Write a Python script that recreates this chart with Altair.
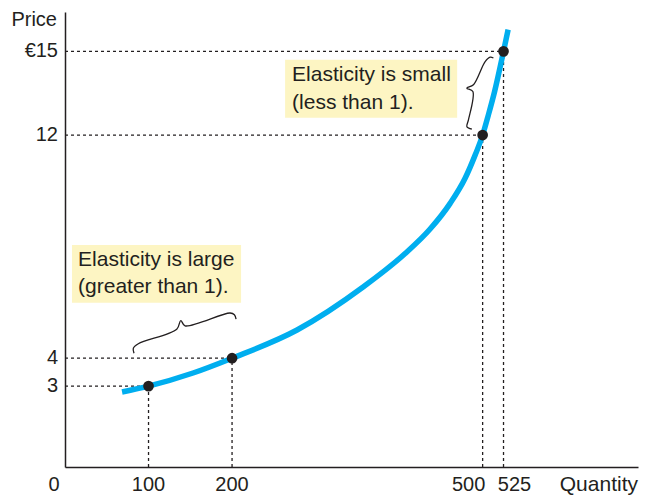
import altair as alt
import pandas as pd

# ---- data ----
curve_q = [68.3, 100, 153.3, 200, 277.8, 356.9, 407.2, 437.1, 461.1, 479.0, 491.0, 500, 506.6, 514.4, 525, 530.5]
curve_p = [2.79, 3.0, 3.47, 4.0, 5.01, 6.55, 7.75, 8.63, 9.55, 10.45, 11.28, 12.0, 12.69, 13.57, 15.0, 15.78]

point_q = [100, 200, 500, 525]
point_p = [3, 4, 12, 15]

y_tick_values = [3, 4, 12, 15]
y_tick_labels = ["3", "4", "12", "€15"]
x_tick_values = [0, 100, 200, 500, 525]
x_tick_labels = ["0", "100", "200", "500", "525"]

box_names = ["large", "small"]
box_q1 = [8.4, 263.5]
box_q2 = [210.8, 469.5]
box_p1 = [8.06, 14.7]
box_p2 = [5.99, 12.62]

text_lines = ["Elasticity is large", "(greater than 1).", "Elasticity is small", "(less than 1)."]
text_q = [15.6, 15.6, 271.9, 271.9]
text_p = [7.53, 6.56, 14.16, 13.15]

brace_low_q = [82.6, 81.8, 87.8, 133.8, 138.6, 143.7, 197.6, 202.8, 204.8]
brace_low_p = [4.18, 4.36, 4.52, 5.04, 5.35, 5.16, 5.62, 5.56, 5.40]
brace_up_q = [512.9, 509.0, 503.0, 489.0, 481.1, 488.3, 483.0, 481.1, 487.1]
brace_up_p = [14.76, 14.79, 14.63, 13.80, 13.68, 13.56, 12.54, 12.30, 12.21]

X_DOMAIN = [0, 686]
Y_DOMAIN = [0.1, 16.41]

INK = "#231f20"
FONT = "Liberation Sans"

xs = alt.Scale(domain=X_DOMAIN, nice=False, zero=False)
ys = alt.Scale(domain=Y_DOMAIN, nice=False, zero=False)
ax = alt.Axis(title=None)


def X(field):
    return alt.X(field, type="quantitative", scale=xs, axis=ax)


def Y(field):
    return alt.Y(field, type="quantitative", scale=ys, axis=ax)


curve_df = pd.DataFrame({"q": curve_q, "p": curve_p})
pts_df = pd.DataFrame({"q": point_q, "p": point_p})
box_df = pd.DataFrame({"name": box_names, "q1": box_q1, "q2": box_q2, "p1": box_p1, "p2": box_p2})
txt_df = pd.DataFrame({"q": text_q, "p": text_p, "t": text_lines})
brace_df = pd.concat([
    pd.DataFrame({"b": "low", "i": range(len(brace_low_q)), "q": brace_low_q, "p": brace_low_p}),
    pd.DataFrame({"b": "up", "i": range(len(brace_up_q)), "q": brace_up_q, "p": brace_up_p}),
])
guide_df = pd.DataFrame({"q": point_q, "p": point_p, "q0": [X_DOMAIN[0]] * 4, "p0": [Y_DOMAIN[0]] * 4})
ylab_df = pd.DataFrame({"p": y_tick_values, "t": y_tick_labels, "q": [X_DOMAIN[0]] * 4})

boxes = alt.Chart(box_df).mark_rect(color="#fdf5c3").encode(
    x=X("q1"), x2="q2", y=Y("p1"), y2="p2")

hguides = alt.Chart(guide_df).mark_rule(color=INK, strokeDash=[3, 3], strokeWidth=1.3).encode(
    x=X("q0"), x2="q", y=Y("p"))
vguides = alt.Chart(guide_df).mark_rule(color=INK, strokeDash=[3, 3], strokeWidth=1.3).encode(
    x=X("q"), y=Y("p0"), y2="p")

curve = alt.Chart(curve_df).mark_line(color="#00aeef", strokeWidth=5.5, interpolate="monotone").encode(
    x=X("q"), y=Y("p"))

pts = alt.Chart(pts_df).mark_circle(color=INK, opacity=1, size=115).encode(x=X("q"), y=Y("p"))

braces = alt.Chart(brace_df).mark_line(color=INK, strokeWidth=1.3, interpolate="catmull-rom").encode(
    x=X("q"), y=Y("p"), detail="b:N", order="i:Q")

texts = alt.Chart(txt_df).mark_text(font=FONT, fontSize=21, color=INK, align="left", baseline="middle").encode(
    x=X("q"), y=Y("p"), text="t:N")

ylabs = alt.Chart(ylab_df).mark_text(font=FONT, fontSize=20, color=INK, align="right", baseline="middle", dx=-7).encode(
    x=X("q"), y=Y("p"), text="t:N")

x_label_dx = [-11, 0, 0, -14, 11]
xlab_layers = []
for v, lab, ddx in zip(x_tick_values, x_tick_labels, x_label_dx):
    xlab_layers.append(
        alt.Chart(pd.DataFrame({"q": [v], "p": [Y_DOMAIN[0]], "t": [lab]})).mark_text(
            font=FONT, fontSize=20, color=INK, align="center", baseline="middle", dx=ddx, dy=18
        ).encode(x=X("q"), y=Y("p"), text="t:N")
    )

price_title = alt.Chart(pd.DataFrame({"q": [X_DOMAIN[0]], "p": [Y_DOMAIN[1]], "t": ["Price"]})).mark_text(
    font=FONT, fontSize=20, color=INK, align="right", baseline="middle", dx=-8, dy=8
).encode(x=X("q"), y=Y("p"), text="t:N")

qty_title = alt.Chart(pd.DataFrame({"q": [X_DOMAIN[1]], "p": [Y_DOMAIN[0]], "t": ["Quantity"]})).mark_text(
    font=FONT, fontSize=21, color=INK, align="right", baseline="middle", dy=18
).encode(x=X("q"), y=Y("p"), text="t:N")

chart = alt.layer(
    boxes, hguides, vguides, curve, braces, pts, texts, ylabs, *xlab_layers, price_title, qty_title
).properties(
    width=573, height=455,
    autosize=alt.AutoSizeParams(type="none"),
    padding={"left": 57, "top": 4, "right": 1, "bottom": 29},
).configure_view(stroke=None).configure_axis(
    labels=False, ticks=False, grid=False, domainColor=INK, domainWidth=1.5
)

chart.save("out.html", embed_options={"renderer": "svg", "actions": False})
